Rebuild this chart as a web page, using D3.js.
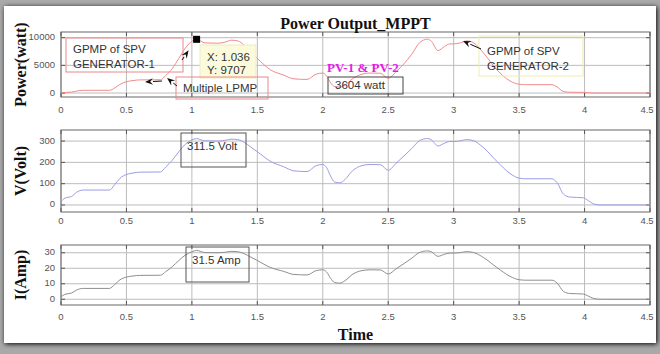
<!DOCTYPE html>
<html>
<head>
<meta charset="utf-8">
<script src="https://cdn.jsdelivr.net/npm/d3@7/dist/d3.min.js"></script>
<style>
  html, body { margin: 0; padding: 0; background: #a9a9a9; }
  svg { display: block; }
</style>
</head>
<body>
<svg id="chart" width="660" height="354"></svg>
<script>
// Time samples (s)
const time = [0, 0.03, 0.08, 0.12, 0.17, 0.37, 0.41, 0.45, 0.5, 0.55,
  0.6, 0.76, 0.8, 0.85, 0.9, 0.95, 1.0, 1.036, 1.1, 1.2,
  1.26, 1.3, 1.35, 1.4, 1.45, 1.5, 1.6, 1.7, 1.78, 1.88,
  1.95, 2.0, 2.03, 2.06, 2.09, 2.13, 2.17, 2.23, 2.3, 2.36,
  2.44, 2.5, 2.56, 2.62, 2.68, 2.74, 2.8, 2.83, 2.88, 2.93,
  2.97, 3.0, 3.05, 3.1, 3.15, 3.23, 3.33, 3.43, 3.5, 3.55,
  3.75, 3.79, 3.84, 3.89, 3.99, 4.02, 4.07, 4.12, 4.5];

// MPPT output power (W)
const power = [20, 100, 160, 360, 490, 490, 900, 1560, 2045, 2250,
  2370, 2400, 3170, 4410, 6250, 8120, 9360, 9707, 9060, 9000,
  9240, 9550, 9425, 8640, 7400, 6250, 4200, 3240, 2560, 2460,
  3420, 3604, 3060, 1820, 1170, 1080, 1440, 2620, 3420, 3610,
  3570, 2660, 3840, 5290, 7020, 9120, 9730, 9360, 7670, 8410,
  8880, 8880, 9060, 9425, 9120, 7180, 4200, 2190, 1590, 1510,
  1510, 1100, 250, 140, 120, 60, 0, 0, 0];

// Array voltage (V)
const voltage = [15, 32, 40, 60, 70, 70, 95, 125, 143, 150,
  154, 155, 178, 210, 250, 285, 306, 311.5, 301, 300,
  304, 309, 307, 294, 272, 250, 205, 180, 160, 157,
  185, 190, 175, 135, 108, 104, 120, 162, 185, 190,
  189, 163, 196, 230, 265, 302, 312, 306, 277, 290,
  298, 298, 301, 307, 302, 268, 205, 148, 126, 123,
  123, 105, 50, 37, 34, 24, 5, 0, 0];

// Array current (A)
const current = [1.5, 3.2, 4.0, 6.0, 7.0, 7.0, 9.5, 12.5, 14.3, 15.0,
  15.4, 15.5, 17.8, 21.0, 25.0, 28.5, 30.6, 31.5, 30.1, 30.0,
  30.4, 30.9, 30.7, 29.4, 27.2, 25.0, 20.5, 18.0, 16.0, 15.7,
  18.5, 19.0, 17.5, 13.5, 10.8, 10.4, 12.0, 16.2, 18.5, 19.0,
  18.9, 16.3, 19.6, 23.0, 26.5, 30.2, 31.2, 30.6, 27.7, 29.0,
  29.8, 29.8, 30.1, 30.7, 30.2, 26.8, 20.5, 14.8, 12.6, 12.3,
  12.3, 10.5, 5.0, 3.7, 3.4, 2.4, 0.5, 0, 0];

// Tick labels
const timeTicks = [0, 0.5, 1, 1.5, 2, 2.5, 3, 3.5, 4, 4.5];
const powerTicks = [0, 5000, 10000];
const voltTicks = [0, 100, 200, 300];
const ampTicks = [0, 10, 20, 30];

// Highlighted points
const gpmpTime = 1.036, gpmpPower = 9707;
const sharedTime = 2.0, sharedPower = 3604;
const peakVolt = 311.5, peakAmp = 31.5;

const svg = d3.select("#chart");

// page frame with soft shadow
const defs = svg.append("defs");
const sh = defs.append("filter").attr("id", "shadow")
  .attr("x", "-5%").attr("y", "-5%").attr("width", "110%").attr("height", "110%");
sh.append("feGaussianBlur").attr("in", "SourceAlpha").attr("stdDeviation", 2.5).attr("result", "b");
sh.append("feOffset").attr("in", "b").attr("dx", 1).attr("dy", 1).attr("result", "o");
const mg = sh.append("feMerge");
mg.append("feMergeNode").attr("in", "o");
mg.append("feMergeNode").attr("in", "SourceGraphic");

svg.append("rect").attr("width", 660).attr("height", 354).attr("fill", "#a9a9a9");
svg.append("rect").attr("x", 4).attr("y", 6).attr("width", 652).attr("height", 337)
  .attr("fill", "#ffffff").attr("filter", "url(#shadow)");

const left = 61, right = 650;
const x = d3.scaleLinear().domain([0, 4.5]).range([left, right]);

const panels = [
  { key: "p", values: power, top: 32, bottom: 97, domain: [-720, 11030], ticks: powerTicks,
    color: "#ef8b8b", label: "Power(watt)", tickLabelDy: 13 },
  { key: "v", values: voltage, top: 130, bottom: 212, domain: [-33, 352], ticks: voltTicks,
    color: "#9c9ce6", label: "V(Volt)", tickLabelDy: 9 },
  { key: "i", values: current, top: 245, bottom: 305, domain: [-3.7, 35], ticks: ampTicks,
    color: "#8e8e8e", label: "I(Amp)", tickLabelDy: 12 }
];

const tickFont = "'Liberation Sans', Arial, sans-serif";
const serif = "'Liberation Serif', 'Times New Roman', serif";

panels.forEach(p => {
  const y = d3.scaleLinear().domain(p.domain).range([p.bottom, p.top]);
  p.y = y;
  const g = svg.append("g");

  // grid
  g.selectAll(".vg").data(timeTicks).join("line")
    .attr("x1", d => x(d)).attr("x2", d => x(d))
    .attr("y1", p.top).attr("y2", p.bottom)
    .attr("stroke", "#bcbcbc").attr("stroke-width", 1);
  g.selectAll(".hg").data(p.ticks).join("line")
    .attr("x1", left).attr("x2", right)
    .attr("y1", d => y(d)).attr("y2", d => y(d))
    .attr("stroke", "#bcbcbc").attr("stroke-width", 1);

  // inner ticks on all four sides
  const tl = 4;
  g.selectAll(".tb").data(timeTicks).join("line")
    .attr("x1", d => x(d)).attr("x2", d => x(d))
    .attr("y1", p.bottom).attr("y2", p.bottom - tl).attr("stroke", "#555");
  g.selectAll(".tt").data(timeTicks).join("line")
    .attr("x1", d => x(d)).attr("x2", d => x(d))
    .attr("y1", p.top).attr("y2", p.top + tl).attr("stroke", "#555");
  g.selectAll(".tlft").data(p.ticks).join("line")
    .attr("x1", left).attr("x2", left + tl)
    .attr("y1", d => y(d)).attr("y2", d => y(d)).attr("stroke", "#555");
  g.selectAll(".trt").data(p.ticks).join("line")
    .attr("x1", right).attr("x2", right - tl)
    .attr("y1", d => y(d)).attr("y2", d => y(d)).attr("stroke", "#555");

  // box
  g.append("rect").attr("x", left).attr("y", p.top)
    .attr("width", right - left).attr("height", p.bottom - p.top)
    .attr("fill", "none").attr("stroke", "#666").attr("stroke-width", 1);

  // tick labels (the last one is kept inside the frame)
  g.selectAll(".xl").data(timeTicks).join("text")
    .attr("x", (d, i) => i === timeTicks.length - 1 ? x(d) - 3 : x(d))
    .attr("y", p.bottom + p.tickLabelDy)
    .attr("dominant-baseline", "middle").attr("text-anchor", "middle")
    .attr("font-family", tickFont).attr("font-size", 9.5).attr("fill", "#555")
    .text(d => d);
  g.selectAll(".yl").data(p.ticks).join("text")
    .attr("x", left - 6).attr("y", d => y(d))
    .attr("dominant-baseline", "middle").attr("text-anchor", "end")
    .attr("font-family", tickFont).attr("font-size", 9.5).attr("fill", "#555")
    .text(d => d);

  // series line
  const line = d3.line()
    .x((d, i) => x(time[i]))
    .y(d => y(d))
    .curve(d3.curveMonotoneX);
  g.append("path").datum(p.values)
    .attr("d", line).attr("fill", "none")
    .attr("stroke", p.color).attr("stroke-width", 1);

  // y axis label
  const cy = (p.top + p.bottom) / 2;
  g.append("text")
    .attr("transform", `translate(22,${cy}) rotate(-90)`)
    .attr("text-anchor", "middle").attr("dominant-baseline", "middle")
    .attr("font-family", serif).attr("font-weight", "bold").attr("font-size", 16)
    .attr("fill", "#111").text(p.label);
});

// title and x label
svg.append("text").attr("x", (left + right) / 2).attr("y", 29)
  .attr("text-anchor", "middle")
  .attr("font-family", serif).attr("font-weight", "bold").attr("font-size", 16)
  .attr("fill", "#111").text("Power Output_MPPT");
svg.append("text").attr("x", (left + right) / 2).attr("y", 340)
  .attr("text-anchor", "middle")
  .attr("font-family", serif).attr("font-weight", "bold").attr("font-size", 16)
  .attr("fill", "#111").text("Time");

// annotations
const annFont = tickFont;
function textBox(x0, y0, w, h, stroke, lines, tx, lineYs, fill) {
  svg.append("rect").attr("x", x0).attr("y", y0).attr("width", w).attr("height", h)
    .attr("fill", fill || "none").attr("stroke", stroke).attr("stroke-width", 1);
  lines.forEach((t, i) => {
    svg.append("text").attr("x", tx).attr("y", lineYs[i])
      .attr("dominant-baseline", "middle")
      .attr("font-family", annFont).attr("font-size", 11.5).attr("fill", "#333")
      .text(t);
  });
}
function arrow(x1, y1, x2, y2) {
  const a = Math.atan2(y2 - y1, x2 - x1);
  const L = 8, W = 3.2;
  const bx = x2 - L * Math.cos(a), by = y2 - L * Math.sin(a);
  svg.append("line").attr("x1", x1).attr("y1", y1).attr("x2", bx).attr("y2", by)
    .attr("stroke", "#111").attr("stroke-width", 1);
  const px = -Math.sin(a) * W, py = Math.cos(a) * W;
  svg.append("path")
    .attr("d", `M${x2},${y2}L${bx + px},${by + py}L${bx + 0.35 * L * Math.cos(a)},${by + 0.35 * L * Math.sin(a)}L${bx - px},${by - py}Z`)
    .attr("fill", "#111");
}

const yP = panels[0].y;

// generator-1 global peak
textBox(66, 38, 117, 34, "#e98a8a", ["GPMP of SPV", "GENERATOR-1"], 73, [50, 65]);
arrow(182, 60, x(gpmpTime) - 8, yP(gpmpPower) + 11);

// data tip at the global peak
svg.append("rect").attr("x", 200).attr("y", 45).attr("width", 56).attr("height", 33)
  .attr("fill", "#fbfbdc").attr("stroke", "#ecebc4");
svg.append("text").attr("x", 207).attr("y", 58).attr("dominant-baseline", "middle")
  .attr("font-family", annFont).attr("font-size", 11.5).attr("fill", "#333")
  .text("X: " + gpmpTime);
svg.append("text").attr("x", 207).attr("y", 71).attr("dominant-baseline", "middle")
  .attr("font-family", annFont).attr("font-size", 11.5).attr("fill", "#333")
  .text("Y: " + gpmpPower);
svg.append("rect").attr("x", x(gpmpTime) - 3.5).attr("y", yP(gpmpPower) - 3.5)
  .attr("width", 7).attr("height", 7).attr("fill", "#000");

// local peaks
textBox(176, 77, 92, 22, "#e98a8a", ["Multiple LPMP"], 183, [88.5]);
arrow(162, 81, 145, 82);
arrow(177, 86, 167, 78);

// combined PV-1 & PV-2 operating point
svg.append("text").attr("x", 327).attr("y", 72)
  .attr("font-family", serif).attr("font-weight", "bold").attr("font-size", 13)
  .attr("fill", "#e21de2").text("PV-1 & PV-2");
textBox(328, 77, 75, 17, "#444", [sharedPower + " watt"], 335, [86]);

// generator-2 global peak
textBox(479, 36, 104, 40, "#efeeb0", ["GPMP of SPV", "GENERATOR-2"], 487, [52, 67]);
arrow(481, 49, 463, 41);

// voltage and current peaks
textBox(181, 133, 65, 34, "#555", [peakVolt + " Volt"], 187, [147]);
textBox(186, 247, 63, 35, "#555", [peakAmp + " Amp"], 192, [261]);
</script>
</body>
</html>
